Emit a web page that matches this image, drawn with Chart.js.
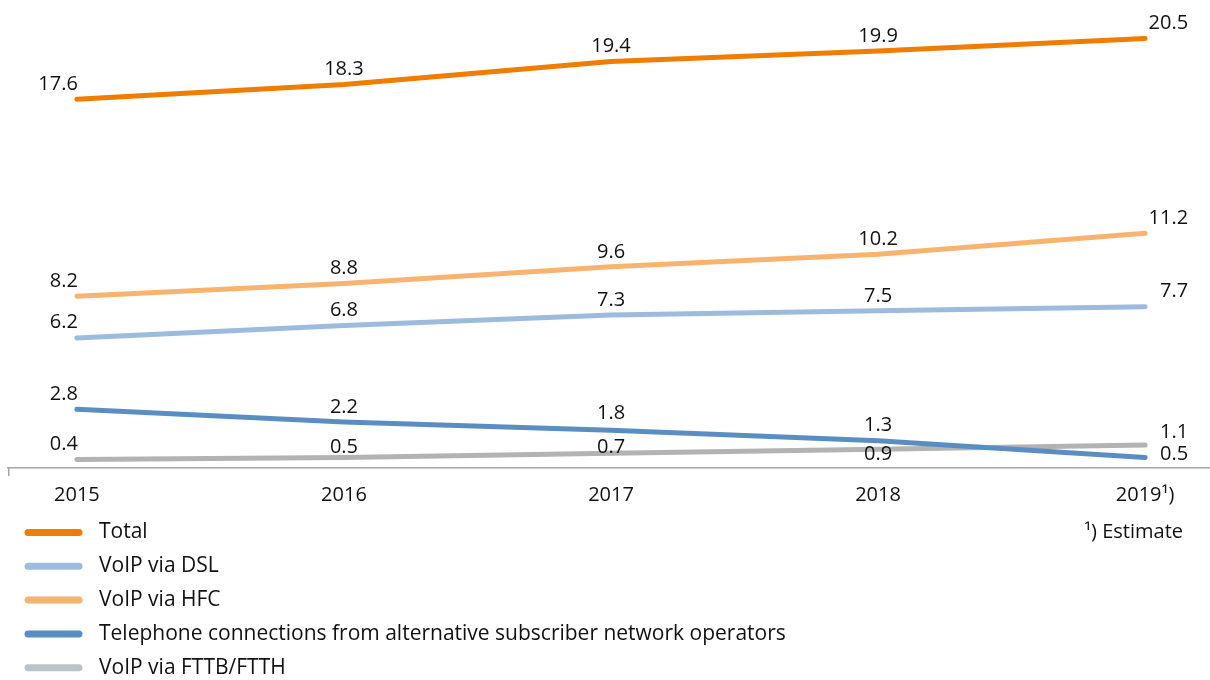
<!DOCTYPE html>
<html>
<head>
<meta charset="utf-8">
<script src="https://cdn.jsdelivr.net/npm/chart.js@4.4.1/dist/chart.umd.min.js"></script>
<style>
  html, body { margin: 0; padding: 0; background: #ffffff; }
  #wrap { width: 1210px; height: 680px; position: relative; }
</style>
</head>
<body>
<div id="wrap"><canvas id="chart" width="1210" height="680"></canvas></div>
<script>
// Years on the horizontal axis
const years = ['2015', '2016', '2017', '2018', '2019\u00b9)'];

// Telephone connections, millions
const totalValues = [17.6, 18.3, 19.4, 19.9, 20.5];
const dslValues = [6.2, 6.8, 7.3, 7.5, 7.7];
const hfcValues = [8.2, 8.8, 9.6, 10.2, 11.2];
const altOperatorValues = [2.8, 2.2, 1.8, 1.3, 0.5];
const ftthValues = [0.4, 0.5, 0.7, 0.9, 1.1];

const seriesNames = [
  'Total',
  'VoIP via DSL',
  'VoIP via HFC',
  'Telephone connections from alternative subscriber network operators',
  'VoIP via FTTB/FTTH'
];
const footnote = '\u00b9) Estimate';

// Styling
const FONT = '"Open Sans", "Noto Sans", sans-serif';
const lineColors = ['#ef7d00', '#9dbcdd', '#f8b46f', '#5a8ec3', '#b3b3b3'];
const legendColors = ['#ef7d00', '#9dbcdd', '#f8b46f', '#5a8ec3', '#b9c3c8'];
// vertical shift of each value label (text middle relative to the point)
const labelShiftY = [
  [-15, -15, -15, -15, -15],
  [-16, -15, -15, -15, -15],
  [-15, -15, -15, -15, -15],
  [-15, -15, -17, -15, -3],
  [-15, -10, -6, 5, -13]
];

const seriesValues = [totalValues, dslValues, hfcValues, altOperatorValues, ftthValues];

const datasets = seriesValues.map((vals, s) => ({
  label: seriesNames[s],
  data: vals.map((v, i) => ({ x: i, y: v })),
  borderColor: lineColors[s],
  backgroundColor: lineColors[s],
  borderWidth: 5,
  borderCapStyle: 'round',
  borderJoinStyle: 'round',
  pointRadius: 0,
  pointHoverRadius: 0,
  tension: 0,
  fill: false
}));

// Draw order: later datasets sit on top
const drawOrder = [0, 2, 1, 4, 3];
datasets.forEach((d, s) => { d.order = drawOrder.length - drawOrder.indexOf(s); });

const valueLabels = {
  id: 'valueLabels',
  afterDatasetsDraw(chart) {
    const ctx = chart.ctx;
    ctx.save();
    ctx.font = '20px ' + FONT;
    ctx.fillStyle = '#111111';
    ctx.textBaseline = 'middle';
    chart.data.datasets.forEach((ds, s) => {
      const meta = chart.getDatasetMeta(s);
      meta.data.forEach((pt, i) => {
        const text = ds.data[i].y.toFixed(1);
        let x = pt.x;
        if (i === 0) { ctx.textAlign = 'right'; x = pt.x + 1; }
        else if (i === meta.data.length - 1) { ctx.textAlign = 'right'; x = pt.x + 43; }
        else { ctx.textAlign = 'center'; }
        ctx.fillText(text, x, pt.y + labelShiftY[s][i]);
      });
    });
    ctx.restore();
  }
};

const legendBlock = {
  id: 'legendBlock',
  afterDraw(chart) {
    const ctx = chart.ctx;
    ctx.save();
    ctx.textBaseline = 'middle';
    ctx.textAlign = 'left';
    ctx.font = '21px ' + FONT;
    seriesNames.forEach((name, s) => {
      const y = 532.5 + s * 33.8;
      ctx.strokeStyle = legendColors[s];
      ctx.lineWidth = 7;
      ctx.lineCap = 'round';
      ctx.beginPath();
      ctx.moveTo(28, y);
      ctx.lineTo(79, y);
      ctx.stroke();
      ctx.fillStyle = '#111111';
      ctx.fillText(name, 99, y);
    });
    ctx.font = '20px ' + FONT;
    ctx.textAlign = 'right';
    ctx.fillText(footnote, 1183, 532.5);
    // small tick at the left end of the axis line
    const area = chart.chartArea;
    ctx.strokeStyle = '#a6a6a6';
    ctx.lineWidth = 1.5;
    ctx.lineCap = 'butt';
    ctx.beginPath();
    ctx.moveTo(area.left + 0.75, area.bottom);
    ctx.lineTo(area.left + 0.75, area.bottom + 8);
    ctx.stroke();
    ctx.restore();
  }
};

new Chart(document.getElementById('chart'), {
  type: 'line',
  data: { datasets },
  options: {
    responsive: false,
    animation: false,
    events: [],
    layout: { padding: { left: 8, right: 0, top: 7, bottom: 158 } },
    plugins: {
      legend: { display: false },
      tooltip: { enabled: false },
      title: { display: false }
    },
    scales: {
      x: {
        type: 'linear',
        min: -0.258,
        max: 4.243,
        afterBuildTicks(scale) {
          scale.ticks = years.map((_, i) => ({ value: i }));
        },
        ticks: {
          autoSkip: false,
          maxRotation: 0,
          padding: 15,
          color: '#111111',
          font: { family: FONT, size: 20 },
          callback: (v) => years[v]
        },
        grid: { display: false, drawTicks: false },
        border: { display: true, color: '#a6a6a6', width: 1.5 }
      },
      y: {
        type: 'linear',
        display: false,
        min: 0,
        max: 22
      }
    }
  },
  plugins: [valueLabels, legendBlock]
});
</script>
</body>
</html>
